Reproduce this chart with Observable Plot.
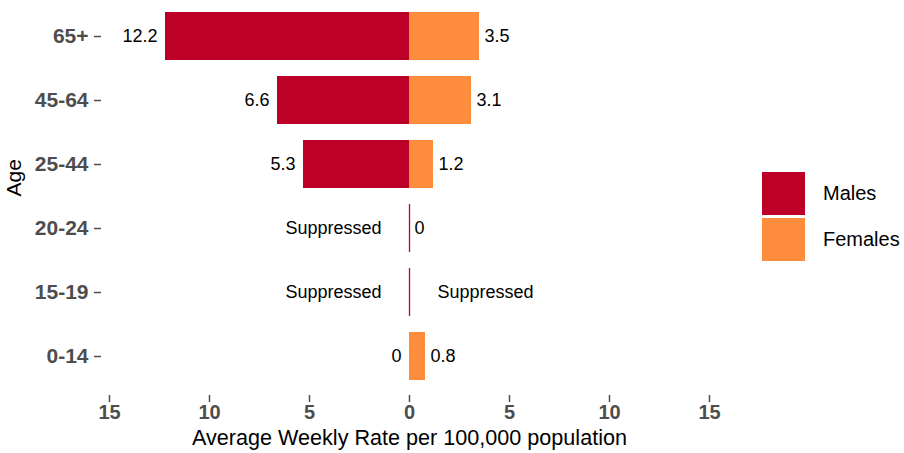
<!DOCTYPE html>
<html><head><meta charset="utf-8">
<script src="https://cdn.jsdelivr.net/npm/d3@7"></script>
<script src="https://cdn.jsdelivr.net/npm/@observablehq/plot@0.6"></script>
<style>
body{margin:0;background:#fff;font-family:"Liberation Sans",Arial,sans-serif;}
#wrap{position:relative;width:904px;height:453px;}
#legend{position:absolute;left:762px;top:172px;}
.item{display:flex;align-items:center;height:43px;margin-bottom:3px;}
.sw{width:43px;height:43px;margin-right:18px;}
.lab{font-size:20px;color:#000;}
</style></head><body><div id="wrap"><div id="chart"></div><div id="legend"></div></div>
<script>
const ages = ["65+", "45-64", "25-44", "20-24", "15-19", "0-14"];
const males = [12.2, 6.6, 5.3, null, null, 0];      // null = suppressed
const females = [3.5, 3.1, 1.2, 0, null, 0.8];      // null = suppressed
const sexes = ["Males", "Females"];
const colors = ["#BD0026", "#FD8D3C"];
const xTicks = [-15, -10, -5, 0, 5, 10, 15];
const suppressedText = "Suppressed";
const suppressedLabelPos = 3.8;

const maleRows = ages.map((a, i) => ({age: a, value: males[i]}));
const femaleRows = ages.map((a, i) => ({age: a, value: females[i]}));
const font = "Liberation Sans, Arial, sans-serif";

const plot = Plot.plot({
  width: 904, height: 453,
  marginLeft: 101, marginRight: 187, marginTop: 0, marginBottom: 61,
  style: {fontFamily: font, background: "white", color: "black"},
  x: {domain: [-15.4, 15.4]},
  y: {domain: ages, paddingInner: 0.25, paddingOuter: 0.1875},
  marks: [
    Plot.barX(maleRows.filter(d => d.value), {x: d => -d.value, y: "age", fill: colors[0]}),
    Plot.barX(femaleRows.filter(d => d.value), {x: "value", y: "age", fill: colors[1]}),
    Plot.tickX(maleRows.filter(d => d.value == null), {x: () => 0, y: "age", stroke: colors[0], strokeWidth: 1.3}),
    Plot.text(maleRows.filter(d => d.value != null), {x: d => -d.value, y: "age", text: d => String(d.value), textAnchor: "end", dx: -8, fontSize: 18, fill: "black"}),
    Plot.text(maleRows.filter(d => d.value == null), {x: () => -suppressedLabelPos, y: "age", text: () => suppressedText, textAnchor: "middle", fontSize: 18, fill: "black"}),
    Plot.text(femaleRows.filter(d => d.value != null), {x: "value", y: "age", text: d => String(d.value), textAnchor: "start", dx: 5, fontSize: 18, fill: "black"}),
    Plot.text(femaleRows.filter(d => d.value == null), {x: () => suppressedLabelPos, y: "age", text: () => suppressedText, textAnchor: "middle", fontSize: 18, fill: "black"}),
    Plot.axisX({ticks: xTicks, tickFormat: d => Math.abs(d), tickSize: 7, tickPadding: 2, dy: 3, fontSize: 20, fontWeight: "bold", color: "#4D4D4D", strokeWidth: 1.5, label: null}),
    Plot.axisY({tickSize: 7, tickPadding: 6, fontSize: 21, fontWeight: "bold", color: "#4D4D4D", strokeWidth: 1.5, label: null}),
    Plot.text(["Average Weekly Rate per 100,000 population"], {frameAnchor: "bottom", dy: 52, text: d => d, fontSize: 21.6, fill: "black"}),
    Plot.text(["Age"], {frameAnchor: "left", dx: -87, rotate: -90, text: d => d, fontSize: 21, fill: "black"})
  ]
});
document.getElementById("chart").appendChild(plot);

const legend = document.getElementById("legend");
sexes.forEach((s, i) => {
  const item = document.createElement("div");
  item.className = "item";
  item.innerHTML = `<div class="sw" style="background:${colors[i]}"></div><span class="lab">${s}</span>`;
  legend.appendChild(item);
});
</script></body></html>
